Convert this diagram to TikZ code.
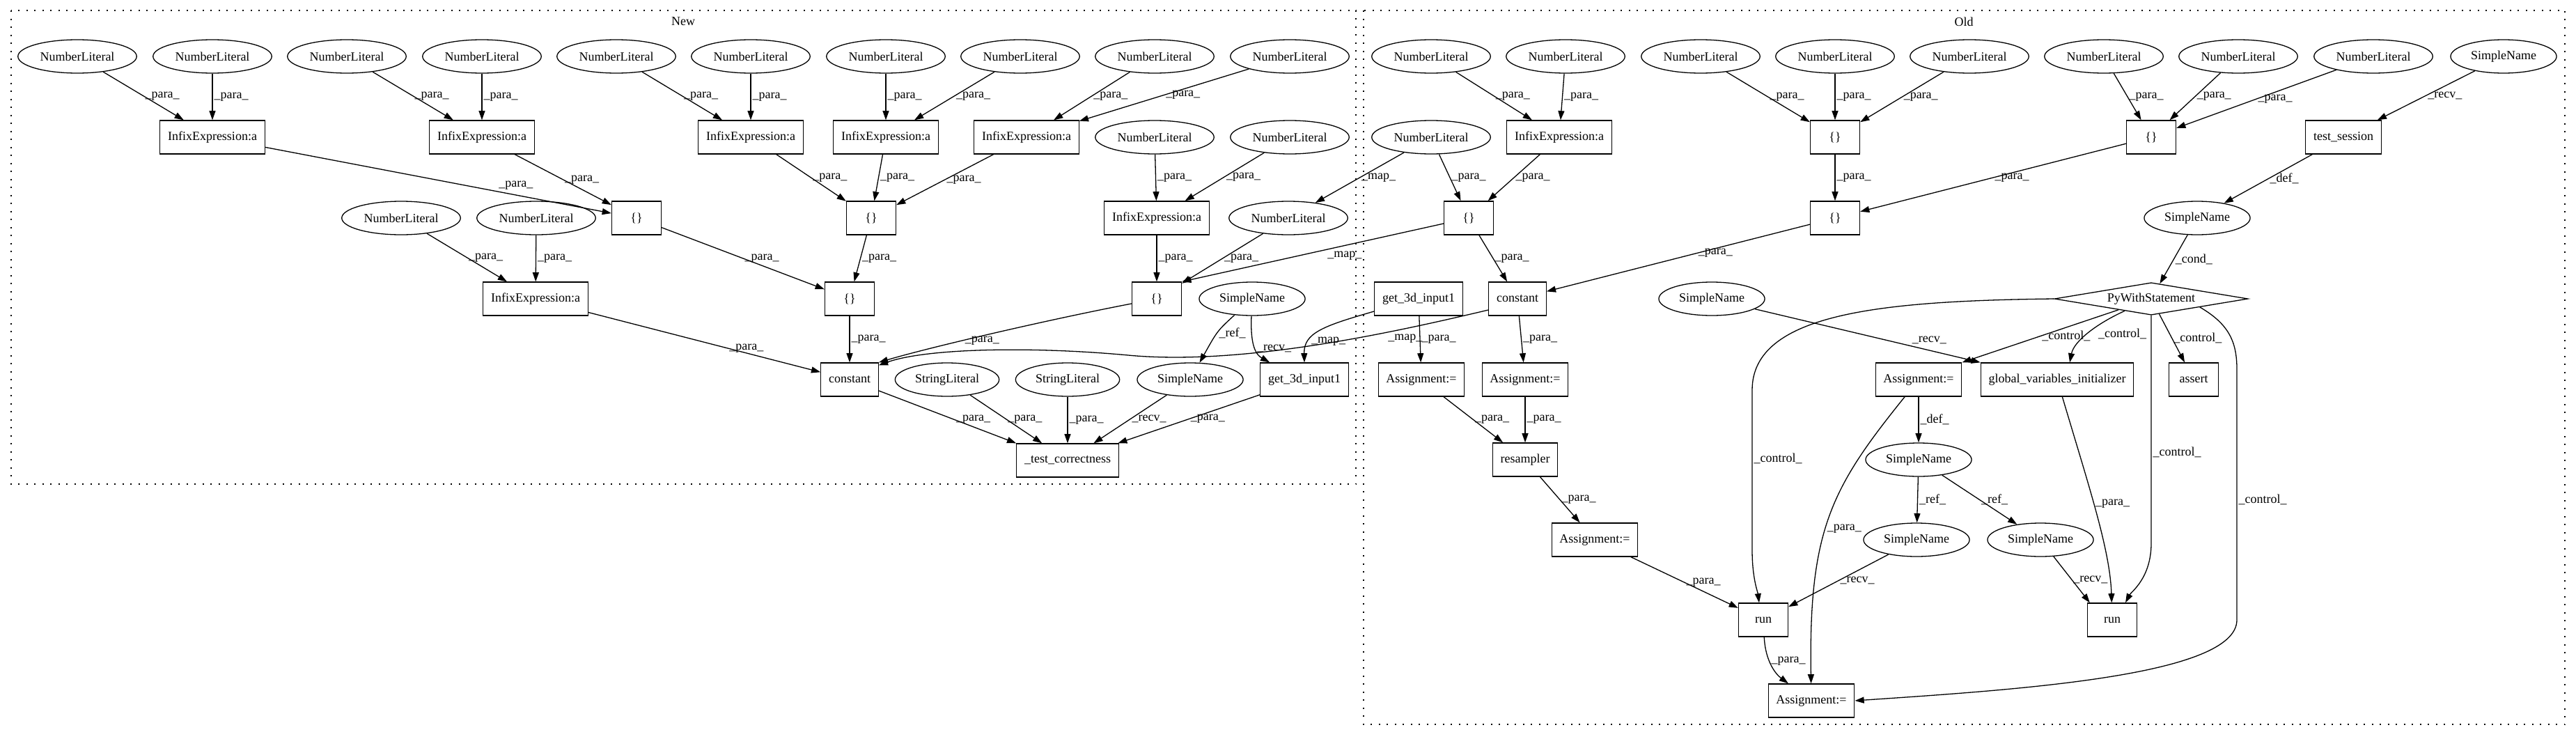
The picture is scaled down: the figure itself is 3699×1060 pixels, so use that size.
\documentclass[tikz,border=0pt]{standalone}
\usepackage{fontspec}
\setmainfont{Liberation Serif}
\usetikzlibrary{arrows.meta,shapes.geometric}

\begin{document}
\begin{tikzpicture}[x=0.5pt,y=-0.5pt,line width=0.65pt,
    >={Triangle[length=6.6pt,width=4.5pt]},
    every node/.style={font=\fontsize{9}{11}\selectfont},
    ellip/.style={ellipse,draw,minimum height=24pt,inner xsep=3.4pt,inner ysep=0pt},
    rbox/.style={rectangle,draw,minimum height=24pt,minimum width=35.5pt,inner xsep=5.6pt,inner ysep=0pt},
    wstmt/.style={diamond,draw,aspect=5.98,inner xsep=0pt,inner ysep=2.24pt},
    lbl/.style={anchor=west,inner sep=1pt},
    cluster/.style={dash pattern=on 1pt off 4.75pt}]
    \useasboundingbox (0,0) rectangle (3699,1060);
    \draw[cluster] (16,15) rectangle (1947,695);
    \node (lblNew) at (981,31) {New};
    \node[ellip] (nlA) at (111,81) {NumberLiteral};
    \node[ellip] (nlB) at (305,81) {NumberLiteral};
    \node[ellip] (nlC) at (498,81) {NumberLiteral};
    \node[ellip] (nlD) at (692,81) {NumberLiteral};
    \node[ellip] (nlE) at (885,81) {NumberLiteral};
    \node[ellip] (nlF) at (1078,81) {NumberLiteral};
    \node[ellip] (nlG) at (1272,81) {NumberLiteral};
    \node[ellip] (nlH) at (1465,81) {NumberLiteral};
    \node[ellip] (nlI) at (1658,81) {NumberLiteral};
    \node[ellip] (nlJ) at (1852,81) {NumberLiteral};
    \node[rbox] (ieA) at (305,197) {InfixExpression:a};
    \node[rbox] (ieB) at (692,197) {InfixExpression:a};
    \node[rbox] (ieC) at (1078,197) {InfixExpression:a};
    \node[rbox] (ieD) at (1272,197) {InfixExpression:a};
    \node[rbox] (ieE) at (1474,197) {InfixExpression:a};
    \node[ellip] (nlK) at (1658,197) {NumberLiteral};
    \node[ellip] (nlL) at (1852,197) {NumberLiteral};
    \node[ellip] (nlM) at (576,313) {NumberLiteral};
    \node[ellip] (nlN) at (770,313) {NumberLiteral};
    \node[rbox] (brA) at (914,313) {\{\}};
    \node[rbox] (brB) at (1251,313) {\{\}};
    \node[rbox] (ieF) at (1661,313) {InfixExpression:a};
    \node[ellip] (nlO) at (1850,313) {NumberLiteral};
    \node[rbox] (ieG) at (769,429) {InfixExpression:a};
    \node[rbox] (brC) at (1220,429) {\{\}};
    \node[rbox] (brD) at (1661,429) {\{\}};
    \node[ellip] (snA) at (1798,429) {SimpleName};
    \node[rbox] (cstN) at (1220,545) {constant};
    \node[ellip] (slA) at (1360,545) {StringLiteral};
    \node[ellip] (slB) at (1533,545) {StringLiteral};
    \node[ellip] (snB) at (1709,545) {SimpleName};
    \node[rbox] (g3N) at (1873,545) {get\_3d\_input1};
    \node[rbox] (tcN) at (1533,661) {\_test\_correctness};
    \draw[->] (nlA) -- (ieA) node[lbl,pos=.5]{\_para\_};
    \draw[->] (nlB) -- (ieA) node[lbl,pos=.5]{\_para\_};
    \draw[->] (nlC) -- (ieB) node[lbl,pos=.5]{\_para\_};
    \draw[->] (nlD) -- (ieB) node[lbl,pos=.5]{\_para\_};
    \draw[->] (nlE) -- (ieC) node[lbl,pos=.5]{\_para\_};
    \draw[->] (nlF) -- (ieC) node[lbl,pos=.5]{\_para\_};
    \draw[->] (nlG) -- (ieD) node[lbl,pos=.5]{\_para\_};
    \draw[->] (nlH) -- (ieD) node[lbl,pos=.5]{\_para\_};
    \draw[->] (nlI) -- (ieE) node[lbl,pos=.5]{\_para\_};
    \draw[->] (nlJ) -- (ieE) node[lbl,pos=.5]{\_para\_};
    \draw[->] (nlK) -- (ieF) node[lbl,pos=.5]{\_para\_};
    \draw[->] (nlL) -- (ieF) node[lbl,pos=.5]{\_para\_};
    \draw[->] (ieA) -- (brA) node[lbl,pos=.67,anchor=south west]{\_para\_};
    \draw[->] (ieB) -- (brA) node[lbl,pos=.5]{\_para\_};
    \draw[->] (ieC) -- (brB) node[lbl,pos=.5]{\_para\_};
    \draw[->] (ieD) -- (brB) node[lbl,pos=.5]{\_para\_};
    \draw[->] (ieE) -- (brB) node[lbl,pos=.5]{\_para\_};
    \draw[->] (nlM) -- (ieG) node[lbl,pos=.5]{\_para\_};
    \draw[->] (nlN) -- (ieG) node[lbl,pos=.5]{\_para\_};
    \draw[->] (ieF) -- (brD) node[lbl,pos=.5]{\_para\_};
    \draw[->] (nlO) -- (brD) node[lbl,pos=.5]{\_para\_};
    \draw[->] (brA) -- (brC) node[lbl,pos=.5]{\_para\_};
    \draw[->] (brB) -- (brC) node[lbl,pos=.5]{\_para\_};
    \draw[->] (brC) -- (cstN) node[lbl,pos=.5]{\_para\_};
    \draw[->] (ieG) -- (cstN) node[lbl,pos=.6]{\_para\_};
    \draw[->] (brD) .. controls (1500,460) and (1330,500) .. (cstN.north east) node[lbl,pos=.6]{\_para\_};
    \draw[->] (snA) .. controls (1748,475) .. (snB) node[lbl,pos=.5]{\_ref\_};
    \draw[->] (snA) .. controls (1795,500) and (1805,510) .. ([xshift=7pt]g3N.north west) node[lbl,pos=.5]{\_recv\_};
    \draw[->] (cstN) -- (tcN.north west) node[lbl,pos=.55]{\_para\_};
    \draw[->] (slA) -- (tcN) node[lbl,pos=.5]{\_para\_};
    \draw[->] (slB) -- (tcN) node[lbl,pos=.5]{\_para\_};
    \draw[->] (snB) -- (tcN) node[lbl,pos=.5]{\_recv\_};
    \draw[->] (g3N) -- (tcN) node[lbl,pos=.5]{\_para\_};

    \draw[cluster] (1958,15) rectangle (3683,1040);
    \node (lblOld) at (2820,31) {Old};
    \node[ellip] (onA) at (2055,81) {NumberLiteral};
    \node[ellip] (onB) at (2248,81) {NumberLiteral};
    \node[ellip] (onC) at (2442,81) {NumberLiteral};
    \node[ellip] (onD) at (2635,81) {NumberLiteral};
    \node[ellip] (onE) at (2828,81) {NumberLiteral};
    \node[ellip] (onF) at (3021,81) {NumberLiteral};
    \node[ellip] (onG) at (3214,81) {NumberLiteral};
    \node[ellip] (onH) at (3408,81) {NumberLiteral};
    \node[ellip] (osA) at (3595,81) {SimpleName};
    \node[ellip] (onI) at (2055,197) {NumberLiteral};
    \node[rbox] (oieA) at (2239,197) {InfixExpression:a};
    \node[rbox] (obrA) at (2635,197) {\{\}};
    \node[rbox] (obrB) at (3089,197) {\{\}};
    \node[rbox] (tsO) at (3365,197) {test\_session};
    \node[rbox] (obrC) at (2109,313) {\{\}};
    \node[rbox] (obrD) at (2635,313) {\{\}};
    \node[ellip] (osB) at (3155,313) {SimpleName};
    \node[rbox] (g3O) at (2037,429) {get\_3d\_input1};
    \node[rbox] (cstO) at (2179,429) {constant};
    \node[ellip] (osC) at (2458,429) {SimpleName};
    \node[wstmt] (pyw) at (3089,429) {PyWithStatement};
    \node[rbox] (asA) at (2041,545) {Assignment:=};
    \node[rbox] (asB) at (2190,545) {Assignment:=};
    \node[rbox] (asC) at (2755,545) {Assignment:=};
    \node[rbox] (gvi) at (2954,545) {global\_variables\_initializer};
    \node[rbox] (asrt) at (3150,545) {assert};
    \node[rbox] (rsm) at (2190,660) {resampler};
    \node[ellip] (osD) at (2755,660) {SimpleName};
    \node[rbox] (asD) at (2290,775) {Assignment:=};
    \node[ellip] (osE) at (2752,775) {SimpleName};
    \node[ellip] (osF) at (2930,775) {SimpleName};
    \node[rbox] (runA) at (2532,890) {run};
    \node[rbox] (runB) at (3033,890) {run};
    \node[rbox] (asE) at (2601,1006) {Assignment:=};
    \draw[->] (onA) -- (oieA) node[lbl,pos=.5]{\_para\_};
    \draw[->] (onB) -- (oieA) node[lbl,pos=.5]{\_para\_};
    \draw[->] (onC) -- (obrA) node[lbl,pos=.5]{\_para\_};
    \draw[->] (onD) -- (obrA) node[lbl,pos=.5]{\_para\_};
    \draw[->] (onE) -- (obrA) node[lbl,pos=.5]{\_para\_};
    \draw[->] (onF) -- (obrB) node[lbl,pos=.5]{\_para\_};
    \draw[->] (onG) -- (obrB) node[lbl,pos=.5]{\_para\_};
    \draw[->] (onH) -- (obrB) node[lbl,pos=.5]{\_para\_};
    \draw[->] (osA) -- (tsO) node[lbl,pos=.5]{\_recv\_};
    \draw[->] (tsO) -- (osB) node[lbl,pos=.5]{\_def\_};
    \draw[->] (osB) -- (pyw) node[lbl,pos=.5]{\_cond\_};
    \draw[->] (onI) -- (obrC) node[lbl,pos=.5]{\_para\_};
    \draw[->] (oieA) -- (obrC) node[lbl,pos=.5]{\_para\_};
    \draw[->] (obrA) -- (obrD) node[lbl,pos=.5]{\_para\_};
    \draw[->] (obrB) -- (obrD) node[lbl,pos=.5]{\_para\_};
    \draw[->] (obrC) -- (cstO) node[lbl,pos=.5]{\_para\_};
    \draw[->] (obrD) -- (cstO) node[lbl,pos=.43]{\_para\_};
    \draw[->] (g3O) -- (asA) node[lbl,pos=.5]{\_para\_};
    \draw[->] (cstO) -- (asB) node[lbl,pos=.5]{\_para\_};
    \draw[->] (asA) -- (rsm) node[lbl,pos=.5]{\_para\_};
    \draw[->] (asB) -- (rsm) node[lbl,pos=.5]{\_para\_};
    \draw[->] (rsm) -- (asD) node[lbl,pos=.5]{\_para\_};
    \draw[->] (asD) -- (runA) node[lbl,pos=.5]{\_para\_};
    \draw[->] (osC) -- (gvi.north west) node[lbl,pos=.69,anchor=south west]{\_recv\_};
    \draw[->] (pyw) -- (asC.north east) node[lbl,pos=.5]{\_control\_};
    \draw[->] (pyw) .. controls (3010,465) and (2978,490) .. ([xshift=9pt]gvi.north) node[lbl,pos=.5,xshift=6pt]{\_control\_};
    \draw[->] (pyw) -- (asrt) node[lbl,pos=.5]{\_control\_};
    \draw[->] (pyw.west) .. controls (2700,432) and (2516,450) .. (2516,560) -- (2516,790) node[lbl,pos=.43]{\_control\_} .. controls (2516,830) and (2524,850) .. ([xshift=-3pt]runA.north);
    \draw[->] (pyw.south) -- (3089,780) node[lbl,pos=.6]{\_control\_} .. controls (3089,830) and (3060,850) .. ([xshift=9.5pt]runB.north);
    \draw[->] (pyw.south east) .. controls (3200,465) and (3212,490) .. (3212,530) -- (3212,890) node[lbl,pos=.52]{\_control\_} .. controls (3212,970) and (2900,990) .. (asE.east);
    \draw[->] (asC) -- (osD) node[lbl,pos=.5]{\_def\_};
    \draw[->] (asC) .. controls (2630,700) and (2597,760) .. (asE) node[lbl,pos=.55]{\_para\_};
    \draw[->] (osD) -- (osE) node[lbl,pos=.5]{\_ref\_};
    \draw[->] (osD) -- (osF) node[lbl,pos=.5]{\_ref\_};
    \draw[->] (osE) -- (runA) node[lbl,pos=.5]{\_recv\_};
    \draw[->] (osF) -- ([xshift=2pt]runB.north west) node[lbl,pos=.5]{\_recv\_};
    \draw[->] (gvi) .. controls (3000,700) and (3030,790) .. (runB) node[lbl,pos=.45]{\_para\_};
    \draw[->] (runA) .. controls (2535,950) and (2550,968) .. (asE) node[lbl,pos=.4]{\_para\_};

    \draw[->] (onI) -- (nlO) node[lbl,pos=.5]{\_map\_};
    \draw[->] (obrC) -- (brD.north east) node[lbl,pos=.45,anchor=north west]{\_map\_};
    \draw[->] ([yshift=-8pt]cstO.west) .. controls (1990,480) and (1780,525) .. (1620,510) node[lbl,pos=.3,anchor=north west]{\_map\_} .. controls (1480,497) and (1330,500) .. ([yshift=-2pt]cstN.north east);
    \draw[->] ([yshift=-9pt]g3O.west) .. controls (1900,468) and (1872,478) .. (g3N.north) node[lbl,pos=.7]{\_map\_};
\end{tikzpicture}
\end{document}
